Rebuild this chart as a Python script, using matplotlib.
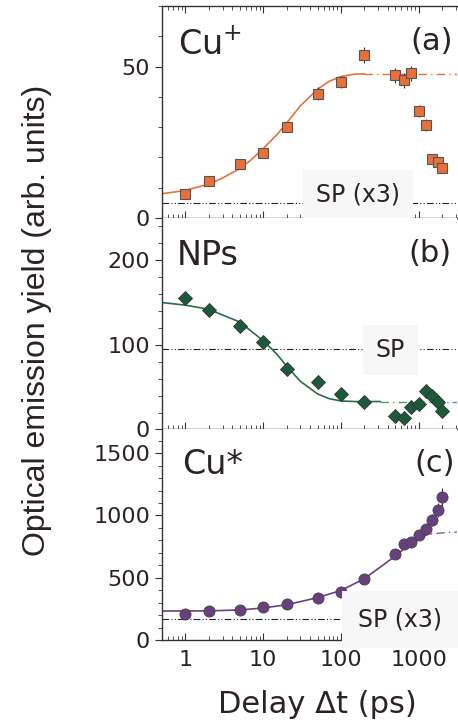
import matplotlib.pyplot as plt
from matplotlib.ticker import MultipleLocator, LogLocator, NullFormatter, FormatStrFormatter

plt.rcParams['font.family'] = 'DejaVu Sans'

# ------------------------------ data ------------------------------------- #
# delays (ps) of the measured points, same for the three panels
t_pts = [1, 2, 5, 10, 20, 50, 100, 200, 500, 650, 800, 1000, 1250, 1500, 1750, 2000]

# (a) Cu+ yield
cu_ion = [7.9, 12.1, 17.8, 21.5, 29.9, 41.1, 44.8, 53.8, 47.1, 45.4, 47.8, 35.2, 30.8, 19.6, 18.6, 16.6]
cu_ion_err = [1.5, 1.5, 1.5, 1.5, 1.5, 2.0, 2.0, 2.6, 2.5, 2.5, 2.5, 2.0, 2.0, 1.5, 1.5, 1.5]

# (b) NPs yield
nps = [155, 141, 122, 103, 72, 56, 42, 33, 16, 14, 27, 30, 45, 40, 32, 22]
nps_err = [4, 4, 4, 4, 4, 3, 3, 3, 4, 4, 4, 4, 4, 4, 4, 4]

# (c) Cu* yield
cu_exc = [211, 233, 238, 265, 286, 334, 388, 487, 693, 773, 789, 840, 888, 963, 1043, 1147]
cu_exc_err = [25, 25, 25, 25, 25, 25, 25, 30, 35, 40, 40, 40, 45, 50, 55, 70]

# fit curves
fit_a_t = [0.5, 1, 2, 3, 5, 7, 10, 15, 20, 30, 50, 70, 100, 150, 200]
fit_a_y = [8.0, 9.1, 11.2, 13.2, 16.3, 19.2, 22.9, 27.5, 31.3, 37.0, 42.5, 45.1, 46.7, 47.5, 47.6]
plat_a_t = [200, 3100]
plat_a_y = [47.6, 47.6]

fit_b_t = [0.5, 1, 2, 5, 10, 15, 20, 30, 50, 70, 100, 150, 200, 320]
fit_b_y = [150, 147, 142, 127, 105, 89, 75, 57, 42, 36.5, 33.7, 33, 33, 33]
plat_b_t = [320, 3100]
plat_b_y = [33, 33]

fit_c_t = [0.5, 1, 2, 5, 10, 20, 50, 100, 200, 500, 700, 1000, 1500, 2000]
fit_c_y = [233, 233, 234, 241, 257, 283, 340, 398, 492, 674, 750, 825, 950, 1080]
sat_c_t = [1000, 1300, 1700, 2100, 3100]
sat_c_y = [825, 845, 855, 861, 866]

# single pulse reference levels
sp_levels = [4.9, 95, 171]

# ------------------------------ figure ----------------------------------- #
fig = plt.figure(figsize=(4.58, 7.23), dpi=100)
ax_a = fig.add_axes([0.3537, 0.6985, 0.644, 0.2932])
ax_b = fig.add_axes([0.3537, 0.4060, 0.644, 0.2925])
ax_c = fig.add_axes([0.3537, 0.1148, 0.644, 0.2912])
axes = [ax_a, ax_b, ax_c]

txt_col = '#2a2226'
orange = '#e8703a'
green = '#1d5a3c'
purple = '#6a3f7e'
box_col = '#f7f7f7'

for ax in axes:
    ax.set_xscale('log')
    ax.set_xlim(0.5, 3100)
    ax.spines['right'].set_visible(False)
    if ax is not ax_a:
        ax.spines['top'].set_visible(False)
    for s in ax.spines.values():
        s.set_color('#333333')
        s.set_linewidth(1.0)
    ax.xaxis.set_major_locator(LogLocator(base=10, numticks=10))
    ax.xaxis.set_major_formatter(FormatStrFormatter('%g'))
    ax.xaxis.set_minor_locator(LogLocator(base=10, subs=range(2, 10), numticks=20))
    ax.xaxis.set_minor_formatter(NullFormatter())
    ax.tick_params(axis='x', which='both', direction='in', bottom=True,
                   top=(ax is ax_a), colors='#333333', labelcolor=txt_col,
                   labelsize=16, pad=7)
    ax.tick_params(axis='x', which='major', length=5)
    ax.tick_params(axis='x', which='minor', length=3)
    ax.tick_params(axis='y', which='both', direction='out', left=True,
                   right=False, colors='#333333', labelcolor=txt_col, labelsize=16)
    ax.tick_params(axis='y', which='major', length=5)
    ax.tick_params(axis='y', which='minor', length=3)
    if ax is not ax_c:
        ax.tick_params(axis='x', labelbottom=False)

sp_dash = (0, (6, 2, 1, 2, 1, 2))
fit_dash = (0, (6, 3, 1, 3))

# ---- (a) Cu+ ----
ax_a.set_ylim(0, 70)
ax_a.yaxis.set_major_locator(MultipleLocator(50))
ax_a.yaxis.set_minor_locator(MultipleLocator(10))
ax_a.axhline(sp_levels[0], color='#222222', lw=0.8, ls=sp_dash, zorder=1)
ax_a.plot(fit_a_t, fit_a_y, color=orange, lw=1.2, zorder=2)
ax_a.plot(plat_a_t, plat_a_y, color=orange, lw=1.0, ls=fit_dash, zorder=2)
ax_a.errorbar(t_pts, cu_ion, yerr=cu_ion_err, fmt='none', ecolor='#333333',
              elinewidth=0.8, capsize=0, zorder=3)
ax_a.plot(t_pts, cu_ion, 's', ms=7, mfc=orange, mec='#555555', mew=0.8, zorder=4)
ax_a.text(166, 7.7, 'SP (x3)', fontsize=17, color=txt_col, ha='center', va='center',
          zorder=5, bbox=dict(boxstyle='square,pad=0.55', fc=box_col, ec='none'))
ax_a.text(0.054, 0.769, 'Cu$^{+}$', transform=ax_a.transAxes, fontsize=24,
          color=txt_col, ha='left', va='baseline')
ax_a.text(0.986, 0.792, '(a)', transform=ax_a.transAxes, fontsize=22,
          color=txt_col, ha='right', va='baseline')

# ---- (b) NPs ----
ax_b.set_ylim(0, 250)
ax_b.yaxis.set_major_locator(MultipleLocator(100))
ax_b.yaxis.set_minor_locator(MultipleLocator(20))
ax_b.axhline(sp_levels[1], color='#222222', lw=0.8, ls=sp_dash, zorder=1)
ax_b.plot(fit_b_t, fit_b_y, color='#2a6a4a', lw=1.2, zorder=2)
ax_b.plot(plat_b_t, plat_b_y, color='#5a9478', lw=1.0, ls=fit_dash, zorder=2)
ax_b.errorbar(t_pts, nps, yerr=nps_err, fmt='none', ecolor='#333333',
              elinewidth=0.8, capsize=0, zorder=3)
ax_b.plot(t_pts, nps, 'D', ms=7, mfc=green, mec='#333333', mew=0.6, zorder=4)
ax_b.text(435, 94, 'SP', fontsize=17, color=txt_col, ha='center', va='center',
          zorder=5, bbox=dict(boxstyle='square,pad=0.55', fc=box_col, ec='none'))
ax_b.text(0.051, 0.778, 'NPs', transform=ax_b.transAxes, fontsize=24,
          color=txt_col, ha='left', va='baseline')
ax_b.text(0.983, 0.792, '(b)', transform=ax_b.transAxes, fontsize=22,
          color=txt_col, ha='right', va='baseline')

# ---- (c) Cu* ----
ax_c.set_ylim(0, 1690)
ax_c.yaxis.set_major_locator(MultipleLocator(500))
ax_c.yaxis.set_minor_locator(MultipleLocator(100))
ax_c.axhline(sp_levels[2], color='#222222', lw=0.8, ls=sp_dash, zorder=1)
ax_c.plot(fit_c_t, fit_c_y, color=purple, lw=1.2, zorder=2)
ax_c.plot(sat_c_t, sat_c_y, color='#8a5a9e', lw=1.0, ls=fit_dash, zorder=2)
ax_c.errorbar(t_pts, cu_exc, yerr=cu_exc_err, fmt='none', ecolor='#333333',
              elinewidth=0.8, capsize=0, zorder=3)
ax_c.plot(t_pts, cu_exc, 'o', ms=8, mfc=purple, mec='#444444', mew=0.6, zorder=4)
ax_c.text(580, 165, 'SP (x3)', fontsize=17, color=txt_col, ha='center', va='center',
          zorder=5, bbox=dict(boxstyle='square,pad=0.7', fc=box_col, ec='none'))
ax_c.text(0.068, 0.789, 'Cu*', transform=ax_c.transAxes, fontsize=24,
          color=txt_col, ha='left', va='baseline')
ax_c.text(0.993, 0.798, '(c)', transform=ax_c.transAxes, fontsize=22,
          color=txt_col, ha='right', va='baseline')

# ---- axis titles ----
fig.text(0.081, 0.557, 'Optical emission yield (arb. units)', rotation=90,
         fontsize=23, family='Liberation Sans', color=txt_col,
         ha='center', va='center')
fig.text(0.694, 0.0138, 'Delay \u0394t (ps)', fontsize=22, color=txt_col,
         ha='center', va='baseline')

plt.savefig('out.png', dpi=100)
